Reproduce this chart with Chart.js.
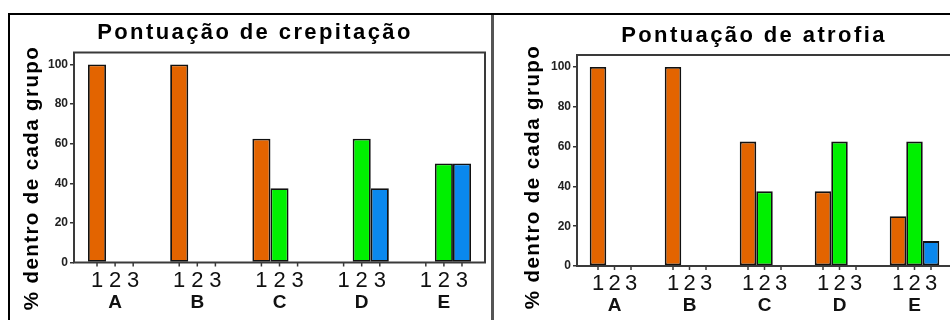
<!DOCTYPE html>
<html>
<head>
<meta charset="utf-8">
<script src="https://cdn.jsdelivr.net/npm/chart.js@4"></script>
<style>
  html, body { margin: 0; padding: 0; }
  body { width: 950px; height: 320px; overflow: hidden; background: #fff; position: relative; }
  .frame-top { position: absolute; left: 8px; top: 13px; width: 942px; height: 2px; background: #000; }
  .frame-left { position: absolute; left: 8px; top: 13px; width: 2px; height: 307px; background: #000; }
  .divider { position: absolute; left: 491px; top: 15px; width: 3px; height: 305px; background: #555; }
  .panel { position: absolute; top: 16px; height: 304px; }
  #panel1 { left: 10px; width: 481px; }
  #panel2 { left: 494px; width: 470px; }
</style>
</head>
<body>
<div class="frame-top"></div>
<div class="frame-left"></div>
<div class="divider"></div>
<div class="panel" id="panel1"><canvas id="crepChart"></canvas></div>
<div class="panel" id="panel2"><canvas id="atrofChart"></canvas></div>

<script>
const groups = ["A", "B", "C", "D", "E"];
const scoreLabels = ["1", "2", "3"];
const yTicks = [0, 20, 40, 60, 80, 100];
const yMax = 106;

// crepitação, % em cada grupo
const crepScore1 = [100, 100, 62.5, 0, 0];
const crepScore2 = [0, 0, 37.5, 62.5, 50];
const crepScore3 = [0, 0, 0, 37.5, 50];

// atrofia
const atrofScore1 = [100, 100, 62.5, 37.5, 25];
const atrofScore2 = [0, 0, 37.5, 62.5, 62.5];
const atrofScore3 = [0, 0, 0, 0, 12.5];

const scoreColors = ["#E36400", "#00F000", "#0A88EE"];

const FONT = "'Liberation Sans', Arial, sans-serif";

// frame, sub-ticks, 1 2 3 / A B C..., titles
const panelText = {
  id: "panelText",
  afterDraw(chart, args, opts) {
    const ctx = chart.ctx;
    const area = chart.chartArea;
    const xScale = chart.scales.x;

    ctx.save();
    ctx.strokeStyle = "#3a3a3a";
    ctx.lineWidth = 2;
    ctx.strokeRect(area.left, area.top, area.right - area.left, area.bottom - area.top);

    ctx.fillStyle = "#111";
    ctx.textAlign = "center";
    ctx.textBaseline = "middle";
    ctx.lineWidth = 1.5;
    chart.data.datasets.forEach((ds, d) => {
      chart.getDatasetMeta(d).data.forEach(bar => {
        ctx.beginPath();
        ctx.moveTo(bar.x, area.bottom);
        ctx.lineTo(bar.x, area.bottom + 4);
        ctx.stroke();
        ctx.font = "22px " + FONT;
        ctx.fillText(scoreLabels[d], bar.x, area.bottom + opts.digitDy);
      });
    });

    ctx.font = "bold 19px " + FONT;
    groups.forEach((g, i) => {
      ctx.fillText(g, xScale.getPixelForValue(i), area.bottom + opts.letterDy);
    });

    ctx.fillStyle = "#000";
    ctx.letterSpacing = "2.4px";
    ctx.font = "bold 22px " + FONT;
    ctx.fillText(opts.title, opts.titleX, opts.titleY);

    ctx.letterSpacing = "1.4px";
    ctx.font = "bold 20.5px " + FONT;
    ctx.translate(opts.yTitleX, opts.yTitleY);
    ctx.rotate(-Math.PI / 2);
    ctx.fillText("% dentro de cada grupo", 0, 0);
    ctx.restore();
  }
};

function makeChart(canvasId, series, box) {
  const ctx = document.getElementById(canvasId).getContext("2d");
  return new Chart(ctx, {
    type: "bar",
    data: {
      labels: groups,
      datasets: series.map((values, i) => ({
        label: scoreLabels[i],
        data: values,
        backgroundColor: scoreColors[i],
        borderColor: "#111",
        borderWidth: 1.8,
        borderSkipped: false,
        barPercentage: 1,
        categoryPercentage: 0.66
      }))
    },
    options: {
      responsive: true,
      maintainAspectRatio: false,
      animation: false,
      layout: { padding: { left: 0, top: box.top, right: box.right, bottom: 0 } },
      plugins: {
        legend: { display: false },
        tooltip: { enabled: false },
        panelText: box.text
      },
      scales: {
        x: {
          ticks: { display: false },
          grid: { display: false },
          border: { display: false },
          afterFit: s => { s.height = box.bottom; }
        },
        y: {
          min: 0,
          max: yMax,
          afterBuildTicks: s => { s.ticks = yTicks.map(v => ({ value: v })); },
          afterFit: s => { s.width = box.left; },
          ticks: {
            color: "#222",
            padding: 2,
            font: { family: FONT, size: 12, weight: "bold" }
          },
          grid: { drawOnChartArea: false, tickLength: 4, tickColor: "#333", lineWidth: 1.5 },
          border: { display: false }
        }
      }
    },
    plugins: [panelText]
  });
}

makeChart("crepChart", [crepScore1, crepScore2, crepScore3], {
  left: 64, top: 36.5, right: 6, bottom: 57.5,
  text: {
    title: "Pontuação de crepitação", titleX: 245, titleY: 17,
    yTitleX: 22.5, yTitleY: 162, digitDy: 18, letterDy: 40
  }
});

makeChart("atrofChart", [atrofScore1, atrofScore2, atrofScore3], {
  left: 83, top: 39, right: 12, bottom: 54,
  text: {
    title: "Pontuação de atrofia", titleX: 260, titleY: 20,
    yTitleX: 39, yTitleY: 161, digitDy: 18, letterDy: 40
  }
});
</script>
</body>
</html>
